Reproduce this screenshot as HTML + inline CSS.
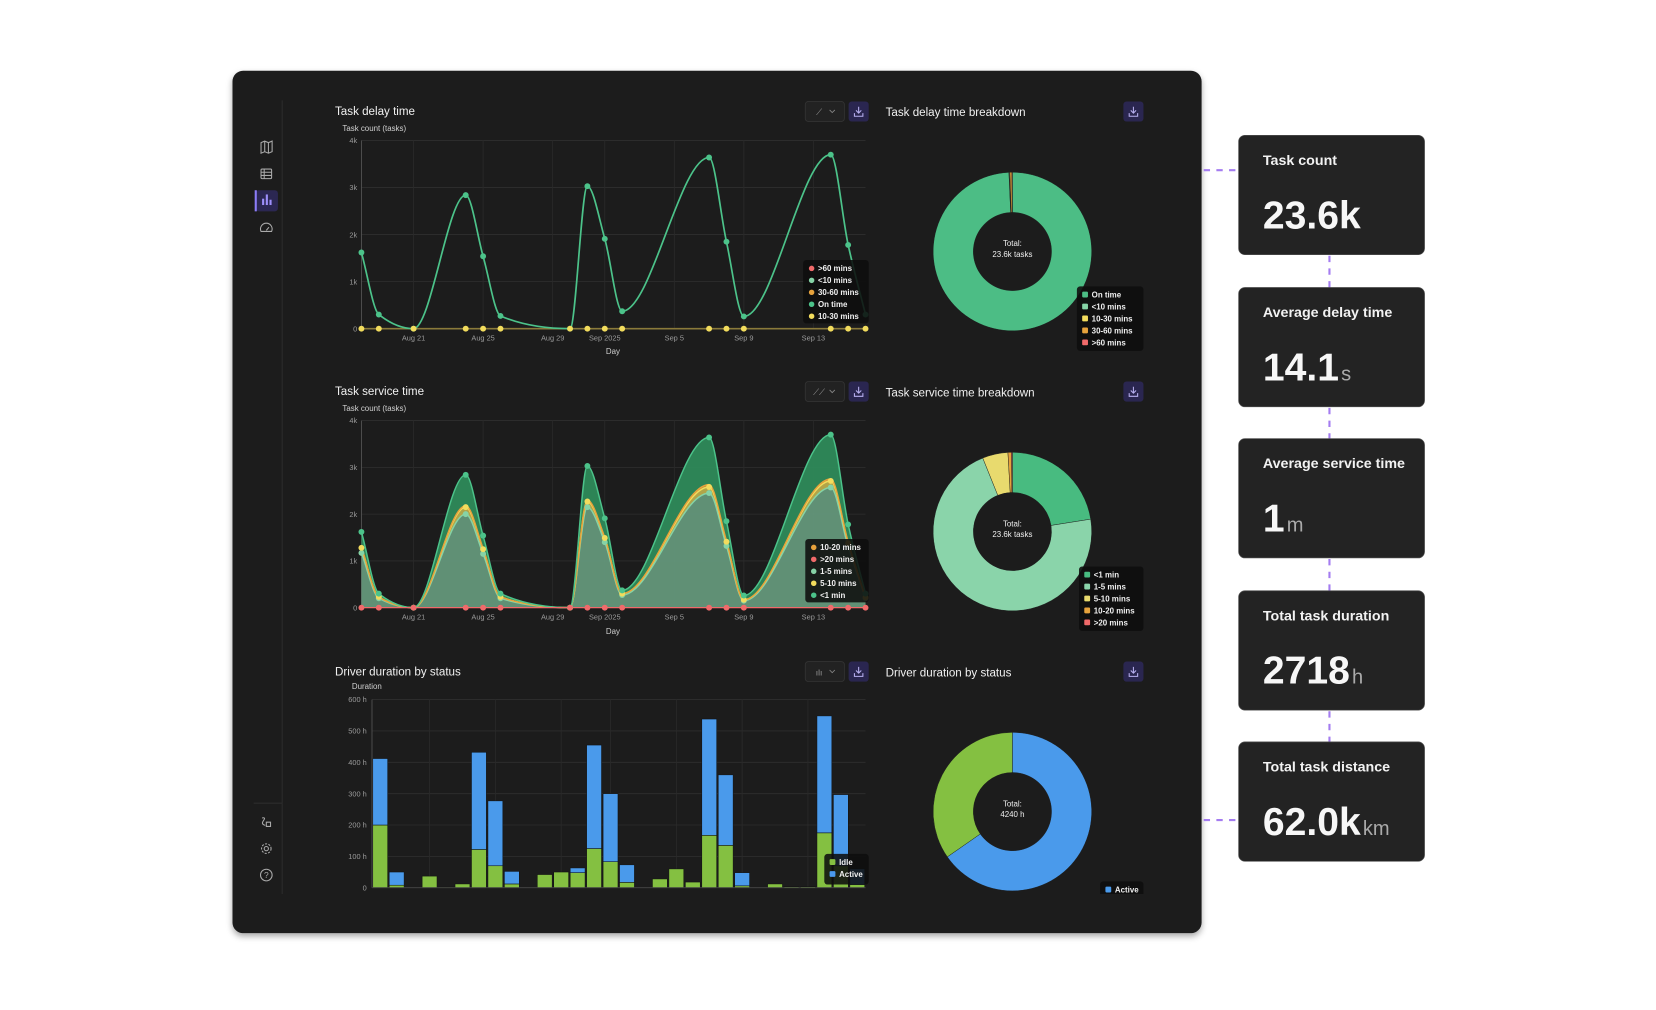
<!DOCTYPE html>
<html><head><meta charset="utf-8">
<style>
html,body{margin:0;padding:0;background:#fff;width:1656px;height:1005px;overflow:hidden;font-family:"Liberation Sans",sans-serif;}
#wrap{position:absolute;left:0;top:0;width:1567px;height:951px;transform:scale(1.0568);transform-origin:0 0;}
svg text{font-family:"Liberation Sans",sans-serif;}
</style></head><body>
<div id="wrap">
<svg id="main" width="1567" height="951" viewBox="0 0 1567 951" xmlns="http://www.w3.org/2000/svg">
<defs>
<filter id="sh" x="-5%" y="-5%" width="110%" height="115%"><feDropShadow dx="0" dy="3" stdDeviation="3" flood-color="#000" flood-opacity="0.35"/></filter>
<clipPath id="clipPanel"><rect x="222" y="69" width="913" height="777"/></clipPath>
</defs>
<rect x="220" y="67" width="917" height="816" rx="10" fill="#1a1a1a" filter="url(#sh)"/>
<!-- sidebar -->
<g>
<line x1="267" y1="95" x2="267" y2="846" stroke="#2c2c2c" stroke-width="1"/>
<line x1="240" y1="760" x2="267" y2="760" stroke="#2c2c2c" stroke-width="1"/>
<g stroke="#aaa" fill="none" stroke-width="1"><path d="M247 135 l3.5 -1.5 l3.5 1.5 l3.5 -1.5 v10 l-3.5 1.5 l-3.5 -1.5 l-3.5 1.5 z M250.5 133.5 v10 M254 135 v10"/></g>
<g stroke="#aaa" fill="none" stroke-width="1"><rect x="247" y="160" width="10" height="9" rx="1"/><path d="M247 163 h10 M247 166 h10 M250 160 v9"/></g>
<g><rect x="242" y="180" width="21" height="20" rx="3" fill="#2b2752"/><rect x="241" y="180" width="2" height="20" fill="#8c7cf7"/><rect x="248" y="188" width="2" height="6" fill="#9d8ff9"/><rect x="251.5" y="184" width="2" height="10" fill="#9d8ff9"/><rect x="255" y="189" width="2" height="5" fill="#9d8ff9"/></g>
<g stroke="#aaa" fill="none" stroke-width="1"><path d="M247 219 a5.5 5.5 0 1 1 10 0 z M252 218 l2.5 -3"/></g>
<g stroke="#aaa" fill="none" stroke-width="1"><path d="M248 774 q4 -1 1 3 q-2 3 2 4 M252 778 h4 v4 h-4 z"/></g>
<g stroke="#aaa" fill="none" stroke-width="1"><circle cx="252" cy="803" r="4.5" stroke-dasharray="2 1.3"/><circle cx="252" cy="803" r="2"/></g>
<g><circle cx="252" cy="828" r="5.5" stroke="#aaa" fill="none" stroke-width="1"/><text x="252" y="831" font-size="8" fill="#aaa" text-anchor="middle">?</text></g>
</g>
<g id="charts" clip-path="url(#clipPanel)"></g>
<!-- KPI cards -->
<g id="kpis"></g>
</svg>
</div>
<script>
// ---------- data ----------
const dayLabels = ["Aug 21","Aug 25","Aug 29","Sep 2025","Sep 5","Sep 9","Sep 13"];
const dayLabelIdx = [3,7,11,14,18,22,26];
const markedDays = [0,1,3,6,7,8,12,13,14,15,20,21,22,27,28,29];
// Task delay time (k tasks) on marked days
const delayOnTime = [1.62,0.30,0.0,2.84,1.54,0.27,0.0,3.03,1.91,0.37,3.64,1.85,0.26,3.70,1.78,0.30];
const delay10to30 = [0,0,0,0,0,0,0,0,0,0,0,0,0,0,0,0];
const delayTicks = [0,1,2,3,4];
const delayTickLabels = ["0","1k","2k","3k","4k"];
// Task service time (k tasks) stacked on marked days
const svc1to5 = [1.17,0.20,0.0,2.00,1.15,0.20,0.0,2.15,1.40,0.27,2.45,1.32,0.15,2.57,1.30,0.20];
const svc5to10 = [0.11,0.03,0.0,0.15,0.10,0.03,0.0,0.12,0.09,0.03,0.13,0.09,0.02,0.14,0.08,0.02];
const svc10to20 = [0.02,0.0,0.0,0.03,0.02,0.0,0.0,0.03,0.01,0.0,0.05,0.02,0.0,0.04,0.02,0.0];
const svcUnder1 = [0.32,0.07,0.0,0.66,0.27,0.07,0.0,0.73,0.41,0.07,1.01,0.42,0.09,0.95,0.38,0.08];
const svcOver20 = [0,0,0,0,0,0,0,0,0,0,0,0,0,0,0,0];
// Driver duration (h), 30 days
const idleHours = [200,8,0,37,2,12,122,70,12,0,42,50,48,125,83,17,0,28,60,18,167,135,6,0,12,3,3,175,70,10];
const activeHours = [212,42,0,0,0,0,310,207,40,0,0,0,15,330,217,56,0,0,0,0,371,225,42,0,0,0,0,373,227,50];
const hourTicks = [0,100,200,300,400,500,600];
const hourTickLabels = ["0","100 h","200 h","300 h","400 h","500 h","600 h"];
// Donuts
const delayShareLabels = ["On time","<10 mins","10-30 mins","30-60 mins",">60 mins"];
const delayShareValues = [99.3,0.1,0.1,0.4,0.1];
const svcShareLabels = ["<1 min","1-5 mins","5-10 mins","10-20 mins",">20 mins"];
const svcShareValues = [22.5,71.4,5.2,0.7,0.2];
const durShareLabels = ["Active","Idle"];
const durShareValues = [2770,1470];
const kpiLabels = ["Task count","Average delay time","Average service time","Total task duration","Total task distance"];
const kpiValues = ["23.6k","14.1","1","2718","62.0k"];
const kpiUnits = ["","s","m","h","km"];

// ---------- helpers ----------
const NS="http://www.w3.org/2000/svg";
const root=document.getElementById('charts');
function mk(tag,attrs,parent,txt){const e=document.createElementNS(NS,tag);for(const k in attrs)e.setAttribute(k,attrs[k]);if(txt!==undefined)e.textContent=txt;(parent||root).appendChild(e);return e;}
const X0=342,X1=819,NDAYS=30;
function xDay(d){return X0+d*(X1-X0)/(NDAYS-1);}
function mkY(top,bottom,max){return v=>bottom-(v/max)*(bottom-top);}
function monoPath(pts){
  const n=pts.length;if(n<2)return"";
  const dx=[],m=[],t=[];
  for(let i=0;i<n-1;i++){dx[i]=pts[i+1][0]-pts[i][0];m[i]=(pts[i+1][1]-pts[i][1])/dx[i];}
  t[0]=m[0];t[n-1]=m[n-2];
  for(let i=1;i<n-1;i++){if(m[i-1]*m[i]<=0)t[i]=0;else{const w1=2*dx[i]+dx[i-1],w2=dx[i]+2*dx[i-1];t[i]=(w1+w2)/(w1/m[i-1]+w2/m[i]);}}
  let d="M"+pts[0][0].toFixed(1)+" "+pts[0][1].toFixed(1);
  for(let i=0;i<n-1;i++){const h=dx[i];d+=" C"+(pts[i][0]+h/3).toFixed(1)+" "+(pts[i][1]+t[i]*h/3).toFixed(1)+" "+(pts[i+1][0]-h/3).toFixed(1)+" "+(pts[i+1][1]-t[i+1]*h/3).toFixed(1)+" "+pts[i+1][0].toFixed(1)+" "+pts[i+1][1].toFixed(1);}
  return d;
}
function revPath(pts){ // path continuing backward along pts
  const r=pts.slice().reverse();const d=monoPath(r);return d.replace(/^M/," L");
}
function txt(x,y,s,size,fill,anchor,weight,parent){const e=mk('text',{x:x,y:y,'font-size':size,fill:fill,'text-anchor':anchor||'start','font-weight':weight||'normal'},parent,s);return e;}
function grid(top,bottom,ticks,labels,max,parent){
  const y=mkY(top,bottom,max);
  ticks.forEach((t,i)=>{
    const l=mk('line',{x1:X0,x2:X1,y1:y(t),y2:y(t),stroke:'#2e2e2e','stroke-width':0.8},parent);
    
    
    const tl=txt(X0-4,y(t)+2.5,labels[i],7,'#9a9a9a','end','normal',parent);
    
    
  });
  dayLabelIdx.forEach((d,i)=>{
    const l=mk('line',{x1:xDay(d),x2:xDay(d),y1:top,y2:bottom,stroke:'#2a2a2a','stroke-width':0.8},parent);
    
    
    const tl=txt(xDay(d),bottom+11,dayLabels[i],7,'#9a9a9a','middle','normal',parent);
    
    
  });
  mk('line',{x1:X0,x2:X0,y1:top,y2:bottom,stroke:'#555','stroke-width':0.8},parent);
  return y;
}
function header(x,y,title,sub,parent){
  const t=txt(x,y,title,11,'#f0f0f0','start','normal',parent);
  
  
  if(sub){const s=txt(x+7,y+15,sub,7.5,'#d0d0d0','start','normal',parent);
  
  }
}
function toolbar(y,icon,parent){
  const g=mk('g',{},parent);
  
  
  mk('rect',{x:762,y:y,width:37,height:19,rx:3,fill:'#222',stroke:'#333','stroke-width':0.8},g);
  txt(775,y+13,icon,8,'#999','middle','normal',g);
  mk('path',{d:`M785 ${y+8} l2.5 2.5 l2.5 -2.5`,stroke:'#888',fill:'none','stroke-width':0.8},g);
  dl(803,y,parent);
}
function dl(x,y,parent){
  const g=mk('g',{},parent);
  
  
  mk('rect',{x:x,y:y,width:19,height:19,rx:3,fill:'#2a2650'},g);
  mk('path',{d:`M${x+9.5} ${y+5} v6 M${x+7} ${y+8.5} l2.5 2.5 l2.5 -2.5 M${x+5.5} ${y+11} v3 h8 v-3`,stroke:'#b8b0f0',fill:'none','stroke-width':1},g);
}
function legend(x,y,w,h,items,square,parent){
  const g=mk('g',{},parent);
  
  
  mk('rect',{x:x,y:y,width:w,height:h,rx:3,fill:'rgba(14,14,14,0.88)'},g);
  items.forEach((it,i)=>{
    const ly=y+8+i*11.3;
    const e=mk('g',{},g);
    
    
    if(square)mk('rect',{x:x+5,y:ly-3,width:5.5,height:5.5,rx:1,fill:it[1]},e);
    else mk('circle',{cx:x+8,cy:ly,r:2.6,fill:it[1]},e);
    txt(x+14,ly+2.6,it[0],7.5,'#f0f0f0','start','bold',e);
  });
}
const mx=markedDays.map(d=>xDay(d));

// ---------- Chart 1: Task delay time ----------
(function(){
  const g=mk('g',{});
  
  
  header(317,109,'Task delay time','Task count (tasks)',g);
  toolbar(96,'⟋',g);
  const y=grid(133,311,delayTicks,delayTickLabels,4,g);
  const xt=txt(580,335,'Day',7.5,'#d0d0d0','middle','normal',g);
  
  
  const zp=mx.map((x,i)=>[x,y(delay10to30[i])]);
  const zl=mk('path',{d:monoPath(zp),stroke:'#8a7a3a','stroke-width':1.5,fill:'none'},g);
  
  
  const pts=mx.map((x,i)=>[x,y(delayOnTime[i])]);
  const ln=mk('path',{d:monoPath(pts),stroke:'#4cc38a','stroke-width':1.6,fill:'none'},g);
  
  
  pts.forEach(p=>{const c=mk('circle',{cx:p[0],cy:p[1],r:2.8,fill:'#4cc38a'},g);
    
    });
  zp.forEach(p=>{const c=mk('circle',{cx:p[0],cy:p[1],r:2.8,fill:'#f2dc5d'},g);
    
    });
  legend(760,246,62,60,[['>60 mins','#f06a6a'],['<10 mins','#86d3a6'],['30-60 mins','#e6a23c'],['On time','#4cc38a'],['10-30 mins','#f2dc5d']],false,g);
})();

// ---------- Chart 2: Task service time ----------
(function(){
  const g=mk('g',{});
  
  
  header(317,374,'Task service time','Task count (tasks)',g);
  toolbar(361,'⟋⟋',g);
  const y=grid(398,575,delayTicks,delayTickLabels,4,g);
  const xt=txt(580,600,'Day',7.5,'#d0d0d0','middle','normal',g);
  
  
  const c1=svc1to5.map(v=>v);
  const c2=c1.map((v,i)=>v+svc5to10[i]);
  const c3=c2.map((v,i)=>v+svc10to20[i]);
  const c4=c3.map((v,i)=>v+svcUnder1[i]);
  const base=mx.map(x=>[x,y(0)]);
  const P=arr=>mx.map((x,i)=>[x,y(arr[i])]);
  const layers=[[c4,c3,'#2e8a5a','#4cc38a','under-1-min'],[c3,c2,'#c9953a','#e6a23c','10-20-mins'],[c2,c1,'#b9ad4c','#f2dc5d','5-10-mins'],[c1,null,'#64977a','#86d3a6','1-5-mins']];
  layers.forEach(L=>{
    const top=P(L[0]),bot=L[1]?P(L[1]):base;
    const a=mk('path',{d:monoPath(top)+revPath(bot)+' Z',fill:L[2],'fill-opacity':0.95},g);
    
    
  });
  layers.slice().reverse().forEach(L=>{
    const top=P(L[0]);
    const l=mk('path',{d:monoPath(top),stroke:L[3],'stroke-width':1.4,fill:'none'},g);
    
    
  });
  mk('line',{x1:X0,x2:X1,y1:y(0),y2:y(0),stroke:'#f06a6a','stroke-width':1.2},g);
  [[c1,'#86d3a6'],[c2,'#f2dc5d'],[c4,'#4cc38a']].forEach(S=>{
    P(S[0]).forEach(p=>{const c=mk('circle',{cx:p[0],cy:p[1],r:2.8,fill:S[1]},g);
      
      });
  });
  P(svcOver20).forEach(p=>{const c=mk('circle',{cx:p[0],cy:p[1],r:2.8,fill:'#f06a6a'},g);
    
    });
  legend(762,510,60,60,[['10-20 mins','#e6a23c'],['>20 mins','#f06a6a'],['1-5 mins','#86d3a6'],['5-10 mins','#f2dc5d'],['<1 min','#4cc38a']],false,g);
})();

// ---------- Chart 3: Driver duration ----------
(function(){
  const g=mk('g',{});
  
  
  header(317,639,'Driver duration by status',null,g);
  const s=txt(333,652,'Duration',7.5,'#d0d0d0','start','normal',g);
  
  
  toolbar(626,'ılı',g);
  const y=mkY(662,840,600);
  hourTicks.forEach((t,i)=>{
    const l=mk('line',{x1:352,x2:X1,y1:y(t),y2:y(t),stroke:'#2e2e2e','stroke-width':0.8},g);
    
    
    const tl=txt(347,y(t)+2.5,hourTickLabels[i],7,'#9a9a9a','end','normal',g);
    
    
  });
  const bx=d=>352+(d+0.5)*(X1-352)/30;
  const bw=(X1-352)/30-1.5;
  dayLabelIdx.forEach((d,i)=>{
    const l=mk('line',{x1:bx(d),x2:bx(d),y1:662,y2:840,stroke:'#2a2a2a','stroke-width':0.8},g);
    
    
    const tl=txt(bx(d),851,dayLabels[i],7,'#9a9a9a','middle','normal',g);
    
    
  });
  mk('line',{x1:352,x2:352,y1:662,y2:840,stroke:'#555','stroke-width':0.8},g);
  idleHours.forEach((v,d)=>{
    const x=bx(d)-bw/2;
    if(v>0){const r=mk('rect',{x:x,y:y(v),width:bw,height:y(0)-y(v),fill:'#84c041',stroke:'#111','stroke-width':0.5},g);
      
      }
    const a=activeHours[d];
    if(a>0){const r=mk('rect',{x:x,y:y(v+a),width:bw,height:y(v)-y(v+a),fill:'#4a9aeb',stroke:'#111','stroke-width':0.5},g);
      
      }
  });
  mk('line',{x1:352,x2:X1,y1:840,y2:840,stroke:'#444','stroke-width':0.8},g);
  legend(780,808,42,29,[['Idle','#84c041'],['Active','#4a9aeb']],true,g);
})();

// ---------- Donuts ----------
function arcPath(cx,cy,r0,r1,a0,a1){
  const p=(r,a)=>[cx+r*Math.sin(a),cy-r*Math.cos(a)];
  const large=(a1-a0)>Math.PI?1:0;
  const A=p(r1,a0),B=p(r1,a1),C=p(r0,a1),D=p(r0,a0);
  return `M${A[0]} ${A[1]} A${r1} ${r1} 0 ${large} 1 ${B[0]} ${B[1]} L${C[0]} ${C[1]} A${r0} ${r0} 0 ${large} 0 ${D[0]} ${D[1]} Z`;
}
function donut(cy,title,labels,values,colors,center,legendCfg,name){
  const g=mk('g',{});
  
  
  const t=txt(838,cy-133+5,title,11,'#f0f0f0','start','normal',g);
  
  
  dl(1063,cy-142,g);
  const tot=values.reduce((a,b)=>a+b,0);
  let a=0;
  values.forEach((v,i)=>{
    const a1=a+v/tot*2*Math.PI;
    if(v>0){const s=mk('path',{d:arcPath(958,cy,37,75,a,Math.min(a1,2*Math.PI-0.0001)),fill:colors[i],stroke:'#1a1a1a','stroke-width':0.4},g);
      
      }
    a=a1;
  });
  const c1=txt(958,cy-5,'Total:',7.5,'#eee','middle','normal',g);
  
  
  txt(958,cy+5,center,7.5,'#eee','middle','normal',g);
  legend(legendCfg[0],legendCfg[1],legendCfg[2],legendCfg[3],legendCfg[4],true,g);
}
donut(238,'Task delay time breakdown',delayShareLabels,delayShareValues,['#4cbd85','#86d3a6','#f2dc5d','#e6a23c','#f06a6a'],'23.6k tasks',
  [1019,271,63,61,delayShareLabels.map((l,i)=>[l,['#4cbd85','#86d3a6','#f2dc5d','#e6a23c','#f06a6a'][i]])],'task-delay-donut');
donut(503,'Task service time breakdown',svcShareLabels,svcShareValues,['#48bb80','#8ad4aa','#e8da6e','#e6a23c','#f06a6a'],'23.6k tasks',
  [1021,536,61,61,svcShareLabels.map((l,i)=>[l,['#48bb80','#8ad4aa','#e8da6e','#e6a23c','#f06a6a'][i]])],'task-service-donut');
donut(768,'Driver duration by status',durShareLabels,durShareValues,['#4a9aeb','#84c041'],'4240 h',
  [1041,834,41,24,[['Active','#4a9aeb'],['Idle','#84c041']]],'driver-duration-donut');

// ---------- KPI cards ----------
(function(){
  const k=document.getElementById('kpis');
  const tops=[128,272,415,559,702];
  // dashed connectors
  const dash={stroke:'#a47cf0','stroke-width':2,'stroke-dasharray':'6 6',fill:'none'};
  const c1=mk('path',Object.assign({d:'M1139 161 H1172'},dash),k);
  
  
  const c2=mk('path',Object.assign({d:'M1139 776 H1172'},dash),k);
  
  
  for(let i=0;i<4;i++){const c=mk('path',Object.assign({d:`M1258 ${tops[i]+114} V${tops[i+1]}`},dash),k);
    
    }
  tops.forEach((t,i)=>{
    const g=mk('g',{},k);
    
    
    mk('rect',{x:1172,y:t,width:176,height:113,rx:6,fill:'#232323',stroke:'#555','stroke-width':0.6},g);
    const lb=txt(1195,t+28,kpiLabels[i],13.5,'#f2f2f2','start','bold',g);
    
    
    const v=mk('text',{x:1195,y:t+88,'font-size':37,fill:'#f7f7f7','font-weight':'bold'},g);
    
    
    const t1=document.createElementNS(NS,'tspan');t1.textContent=kpiValues[i];v.appendChild(t1);
    if(kpiUnits[i]){const t2=document.createElementNS(NS,'tspan');t2.setAttribute('font-size','19');t2.setAttribute('fill','#aaa');t2.setAttribute('font-weight','normal');t2.setAttribute('dx','2');t2.textContent=kpiUnits[i];v.appendChild(t2);}
  });
})();
</script>
</body></html>
